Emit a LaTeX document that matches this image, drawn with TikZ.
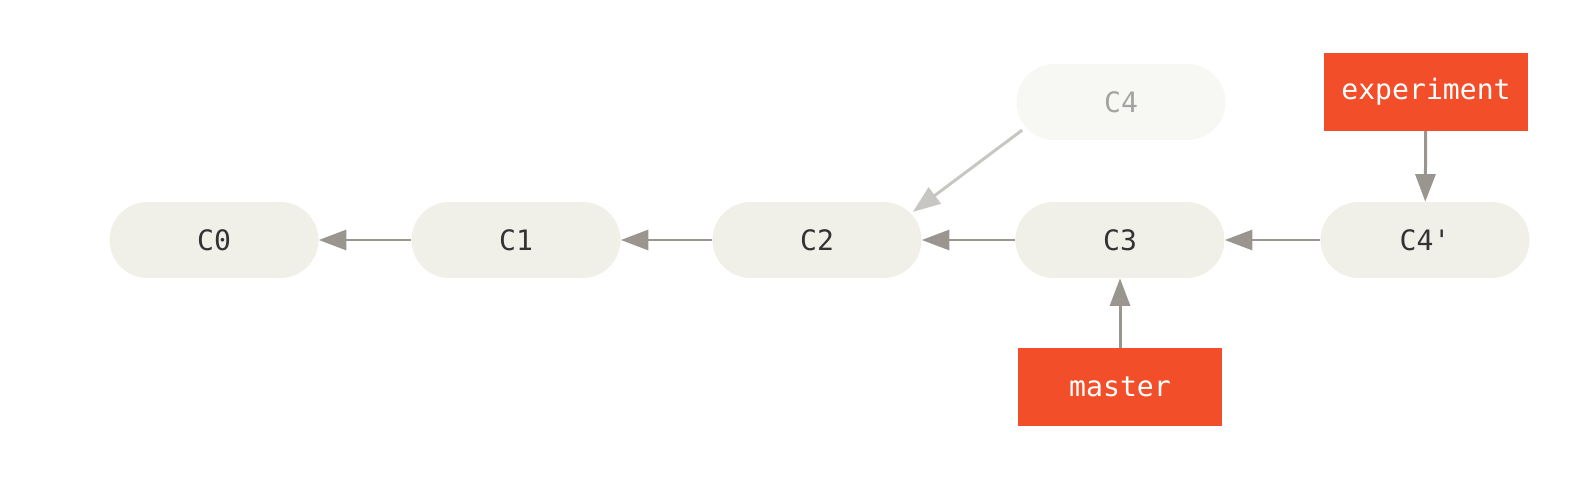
\documentclass[tikz,border=0pt]{standalone}
\usepackage{fontspec}
\setmonofont{DejaVu Sans Mono}
\usetikzlibrary{arrows.meta, positioning}
\definecolor{colCommit}{RGB}{240, 239, 232}
\definecolor{colGhost}{RGB}{247, 247, 243}
\definecolor{colBranch}{RGB}{242, 78, 41}
\definecolor{colArrow}{RGB}{154, 149, 142}
\definecolor{colGhostArrow}{RGB}{200, 198, 194}
\definecolor{colText}{RGB}{51, 51, 51}

\begin{document}
\begin{tikzpicture}[x=0.02cm, y=-0.02cm,
    every node/.style={font=\ttfamily\fontsize{16}{18}\selectfont},
    commit/.style={fill=colCommit, text=colText, rounded corners=0.76cm,
        minimum width=4.18cm, minimum height=1.52cm, inner sep=0pt},
    ghost/.style={commit, fill=colGhost, text=colText!45},
    branch/.style={fill=colBranch, text=white, minimum width=4.08cm,
        minimum height=1.55cm, inner sep=0pt},
    link/.style={draw=colArrow, line width=1.7pt,
        -{Triangle[length=0.55cm, width=0.4cm]}}]
    \useasboundingbox (0, 0) rectangle (1580, 500);

    % --- Commits ---
    \node[commit] (c0) at (214, 240) {C0};
    \node[commit] (c1) at (516, 240) {C1};
    \node[commit] (c2) at (817, 240) {C2};
    \node[commit] (c3) at (1120, 240) {C3};
    \node[commit] (c4p) at (1425, 240) {C4'};
    \node[ghost] (c4) at (1121, 102) {C4};

    % --- Branches ---
    \node[branch] (experiment) at (1426, 92) {experiment};
    \node[branch] (master) at (1120, 387) {master};

    % --- Parents ---
    \draw[link] (c1) -- (c0);
    \draw[link] (c2) -- (c1);
    \draw[link] (c3) -- (c2);
    \draw[link] (c4p) -- (c3);
    \draw[link, draw=colGhostArrow] ([xshift=0.12cm]c4.195) -- ([xshift=-0.18cm]c2.15);

    % --- Pointers ---
    \draw[link] (experiment) -- (c4p);
    \draw[link] (master) -- (c3);
\end{tikzpicture}
\end{document}
